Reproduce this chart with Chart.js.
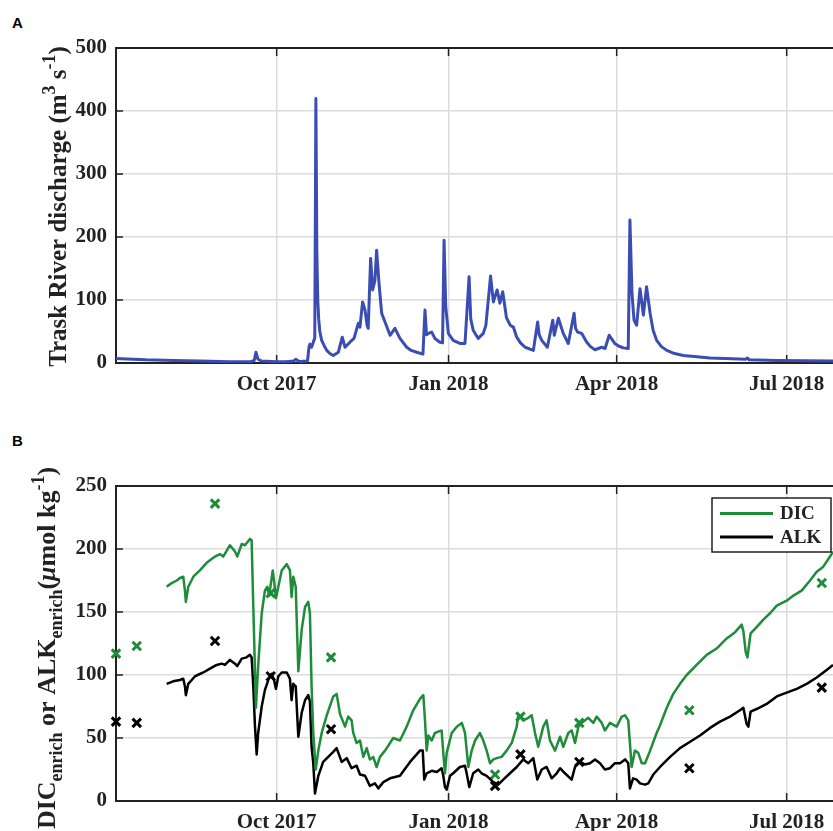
<!DOCTYPE html>
<html>
<head>
<meta charset="utf-8">
<script src="https://cdn.jsdelivr.net/npm/chart.js@4.4.1/dist/chart.umd.min.js"></script>
<style>
  html, body { margin: 0; padding: 0; background: #fff; overflow: hidden; }
  body { width: 833px; height: 831px; position: relative; }
  .panel { position: absolute; left: 0; width: 833px; }
  #wrapA { top: 0; height: 415px; }
  #wrapB { top: 420px; height: 411px; }
  .tag { position: absolute; left: 12px; font: bold 15px "Liberation Sans", Arial, sans-serif; line-height: 15px; color: #000; }
  canvas { display: block; }
</style>
</head>
<body>
<div class="tag" style="top:15px">A</div>
<div class="tag" style="top:433px">B</div>
<div class="panel" id="wrapA"><canvas id="chartA" width="833" height="415"></canvas></div>
<div class="panel" id="wrapB"><canvas id="chartB" width="833" height="411"></canvas></div>

<script>
// Time axis: days counted from 1 Oct 2017 (start of water year 2018)
const tickDays   = [0, 92, 182, 273];
const tickLabels = ['Oct 2017', 'Jan 2018', 'Apr 2018', 'Jul 2018'];
const dayMin = -86, dayMax = 297.8;

// Trask River discharge (m3 s-1)
const dischargeDay = [
  -86, -80, -70, -55, -41, -25, -14, -12, -11.1, -10, -8, 0, 5, 9, 10.3, 12, 16.5, 17.3, 17.8, 18.7,
  19.4, 20.4, 21.0, 21.5, 22.0, 22.5, 23.1, 24.1, 25.5, 26.8, 28.5, 30.3, 33.0, 35.1, 36.6, 39.2,
  41.4, 43.7, 44.6, 46.0, 47.3, 48.4, 49.0, 50.3, 51.4, 52.6, 53.5, 54.8, 56.2, 58.0, 60.7, 63.3,
  66.0, 69.6, 72.0, 75.0, 78.3, 79.4, 80.2, 81.2, 83.0, 84.7, 87.4, 88.8, 89.6, 90.5, 91.9, 94.5,
  98.1, 100.8, 103.0, 103.9, 105.2, 107.9, 110.6, 112.0, 114.5, 116.0, 118.0, 119.5, 121.0, 123.0,
  125.0, 126.7, 128.5, 130.5, 133.0, 137.4, 139.7, 140.5, 141.9, 144.9, 147.8, 148.6, 150.8, 153.4,
  156.1, 159.2, 160.0, 161.1, 163.3, 166.0, 168.0, 170.4, 174.0, 175.8, 178.0, 181.0, 183.0, 185.5,
  188.2, 189.1, 190.2, 191.3, 192.7, 194.5, 196.3, 198.0, 199.9, 201.5, 203.4, 206.0, 208.8, 213.0,
  217.7, 225.0, 232.0, 240.0, 251.0, 252.0, 253.0, 267.7, 297.8
];
const dischargeValue = [
  7, 6.5, 5, 4, 3, 2, 2, 4, 17, 6, 3, 2, 2, 3, 6, 2.5, 3, 25, 30, 25,
  31, 40, 420, 180, 100, 70, 50, 36, 27, 20, 15, 12, 17, 41, 25, 33,
  39, 63, 57, 97, 84, 60, 55, 166, 116, 131, 179, 126, 79, 65, 44, 55,
  39, 25, 20, 17, 14, 84, 45, 47, 49, 39, 33, 32, 195, 90, 47, 36,
  31, 31, 137, 70, 52, 39, 47, 60, 138, 97, 116, 95, 113, 72,
  60, 57, 41, 32, 25, 20, 65, 45, 36, 25, 68, 44, 71, 47,
  31, 79, 55, 49, 47, 33, 26, 21, 25, 23, 44, 31, 27, 24,
  23, 227, 110, 68, 60, 118, 76, 121, 79, 52, 36, 26, 20, 15,
  12, 10, 8, 7, 6, 8, 5, 4, 3
];

// DIC enrichment, continuous record (umol kg-1)
const dicDay = [
  -58.9, -56.2, -53.5, -51.8, -50.0, -49.1, -48.6, -47.3, -44.6, -41.1, -37.5, -33.0, -30.4, -28.6,
  -25.0, -22.3, -21.1, -18.7, -17.0, -14.3, -13.4, -12.5, -11.1, -9.9, -8.0, -6.3, -5.0, -4.0, -2.1,
  -1.4, -0.4, 0.9, 2.7, 5.4, 7.1, 8.0, 8.9, 10.2, 11.6, 13.4, 15.2, 16.9, 17.8, 18.7, 19.6, 20.9,
  22.3, 24.1, 26.8, 30.3, 32.1, 33.9, 36.6, 38.3, 40.1, 41.0, 42.8, 44.6, 46.4, 48.2, 49.9, 51.7,
  53.5, 55.3, 58.0, 60.7, 62.4, 66.0, 69.6, 73.1, 76.7, 78.5, 79.4, 80.3, 81.2, 83.0, 84.7, 86.5,
  88.3, 89.2, 90.1, 91.0, 93.7, 96.4, 99.1, 100.8, 102.6, 104.4, 106.2, 108.8, 110.6, 112.4, 114.2,
  116.0, 117.8, 120.4, 123.1, 125.8, 128.5, 129.3, 132.0, 134.7, 136.5, 138.3, 140.0, 142.7, 144.5,
  146.3, 149.0, 151.7, 153.4, 156.1, 157.9, 159.7, 161.5, 163.3, 166.8, 169.5, 171.3, 174.0, 175.7,
  178.4, 182.0, 184.7, 186.5, 188.2, 189.1, 190.0, 191.8, 193.6, 195.4, 197.2, 199.9, 203.4, 205.2,
  208.8, 212.3, 215.9, 219.5, 224.8, 230.2, 235.5, 240.9, 245.4, 248.9, 249.8, 251.1, 252.0, 253.7,
  256.9, 260.5, 264.1, 267.7, 273.0, 276.6, 281.0, 285.5, 289.1, 292.6, 296.2, 297.8
];
const dicValue = [
  170, 173, 175, 177, 178, 167, 158, 170, 178, 183, 189, 194, 196, 194,
  203, 198, 194, 204, 203, 208, 207, 154, 74, 107, 149, 167, 170, 163, 183,
  175, 161, 170, 183, 188, 183, 162, 178, 170, 103, 136, 154, 158, 149, 91, 54, 25,
  40, 54, 68, 83, 85, 69, 59, 67, 64, 54, 46, 48, 35, 42, 33, 35,
  27, 35, 40, 46, 50, 48, 59, 72, 81, 84, 64, 40, 52, 48, 54, 55,
  56, 38, 22, 38, 54, 59, 62, 54, 27, 40, 48, 54, 48, 40, 30,
  33, 34, 35, 40, 46, 59, 68, 64, 66, 68, 54, 43, 59, 64,
  48, 40, 51, 43, 54, 56, 46, 59, 62, 66, 62, 67, 62, 56,
  62, 59, 67, 68, 64, 46, 27, 40, 38, 30, 30, 40, 54, 60,
  74, 85, 93, 100, 108, 116, 121, 129, 134, 140, 135, 118, 114, 133,
  138, 144, 149, 155, 159, 163, 167, 175, 182, 186, 194, 198
];

// ALK enrichment, continuous record (umol kg-1)
const alkDay = [
  -58.9, -55.4, -51.8, -50.0, -49.1, -48.6, -47.3, -43.7, -39.3, -35.7, -32.1, -29.4, -27.7, -25.0,
  -22.3, -21.1, -18.7, -16.1, -14.3, -13.4, -12.5, -11.6, -10.7, -9.9, -8.0, -6.3, -4.5, -3.6, -2.7,
  -1.4, -0.4, 0.9, 2.7, 5.4, 7.1, 8.0, 8.9, 10.2, 11.6, 13.4, 15.2, 16.9, 17.8, 18.7, 19.6, 20.5,
  22.3, 24.9, 30.3, 32.1, 34.8, 37.5, 40.1, 42.8, 44.6, 47.3, 49.9, 52.6, 54.4, 57.1, 60.7, 66.0,
  71.4, 76.7, 78.2, 79.0, 80.3, 83.0, 85.7, 88.3, 89.2, 90.1, 91.0, 92.8, 94.5, 98.1, 100.8, 101.7,
  103.1, 105.2, 107.9, 109.7, 112.4, 116.0, 118.6, 121.3, 124.9, 128.5, 132.0, 134.7, 137.4, 139.5,
  141.9, 144.5, 147.2, 149.9, 151.7, 154.3, 157.9, 159.7, 162.4, 165.0, 167.7, 170.4, 173.1, 175.7,
  178.4, 181.1, 183.8, 186.5, 188.2, 189.1, 190.8, 192.7, 194.5, 197.2, 198.9, 201.6, 205.2, 210.6,
  215.9, 221.3, 226.6, 232.0, 237.3, 242.7, 248.0, 249.8, 251.6, 252.5, 253.7, 256.9, 262.3, 267.7,
  273.0, 278.4, 283.7, 289.1, 294.4, 297.8
];
const alkValue = [
  93, 95, 96, 97, 91, 84, 93, 99, 102, 105, 108, 109, 108, 112,
  109, 107, 113, 114, 116, 114, 91, 59, 37, 54, 75, 88, 96, 99, 101,
  96, 89, 99, 102, 102, 97, 80, 93, 91, 51, 70, 80, 84, 79, 43, 30, 6,
  20, 31, 39, 42, 31, 34, 26, 28, 21, 20, 12, 14, 10, 15, 18, 20,
  31, 40, 40, 17, 22, 24, 23, 26, 20, 11, 9, 20, 22, 27, 28, 22,
  11, 22, 25, 22, 20, 15, 13, 17, 22, 27, 33, 30, 34, 17,
  25, 27, 18, 22, 26, 22, 17, 27, 31, 29, 30, 33, 30, 25,
  26, 30, 30, 33, 30, 10, 18, 17, 14, 13, 14, 21, 27, 35,
  42, 47, 52, 58, 63, 67, 72, 74, 61, 59, 71, 73, 77, 83,
  86, 89, 93, 98, 104, 108
];

// Discrete bottle samples
const sampleDay      = [-86.0, -74.9, -33.0, -3.2, 29.1, 116.9, 130.5, 162.0, 220.9, 291.8];
const dicSampleValue = [117, 123, 236, 165, 114, 21, 67, 62, 72, 173];
const alkSampleValue = [63, 62, 127, 99, 57, 12, 37, 31, 26, 90];

const pts = (xs, ys) => xs.map((x, i) => ({ x, y: ys[i] }));

const SERIF = '"Liberation Serif", "Times New Roman", serif';
const INK = '#222222';
const GRID = '#dcdcdc';
const BLUE = '#3b4db2';
const GREEN = '#1e8c3a';
const tickFont = { family: SERIF, size: 21, weight: 'bold' };

function xAxis(height) {
  return {
    type: 'linear', min: dayMin, max: dayMax,
    afterBuildTicks: s => { s.ticks = tickDays.map(v => ({ value: v })); },
    ticks: { callback: (v, i) => tickLabels[i], font: tickFont, color: INK, padding: 9, maxRotation: 0, autoSkip: false },
    grid: { color: GRID, lineWidth: 1.5, drawTicks: false },
    border: { display: true, color: INK, width: 2 },
    afterFit: s => { s.height = height; s.paddingLeft = 0; s.paddingRight = 0; }
  };
}
function yAxis(max, step) {
  return {
    min: 0, max: max,
    ticks: { stepSize: step, font: tickFont, color: INK, padding: 9 },
    grid: { color: GRID, lineWidth: 1.5, drawTicks: false },
    border: { display: true, color: INK, width: 2 },
    afterFit: s => { s.width = 116; }
  };
}

// Top edge of the box plus inward tick marks
const framePlugin = {
  id: 'frame',
  beforeDatasetsDraw(chart) {
    const { ctx, chartArea: a, scales: { x, y } } = chart;
    ctx.save();
    ctx.strokeStyle = INK;
    ctx.lineWidth = 2;
    ctx.beginPath();
    ctx.moveTo(a.left - 1, a.top);
    ctx.lineTo(a.right + 2, a.top);
    ctx.stroke();
    ctx.lineWidth = 1.5;
    ctx.beginPath();
    x.ticks.forEach(t => {
      const px = x.getPixelForValue(t.value);
      ctx.moveTo(px, a.bottom); ctx.lineTo(px, a.bottom - 8);
      ctx.moveTo(px, a.top); ctx.lineTo(px, a.top + 8);
    });
    y.ticks.forEach(t => {
      const py = y.getPixelForValue(t.value);
      ctx.moveTo(a.left, py); ctx.lineTo(a.left + 7, py);
    });
    ctx.stroke();
    ctx.restore();
  }
};

// Rotated axis title made of runs with sub/superscripts
function drawRotated(ctx, cx, cy, parts) {
  ctx.save();
  ctx.translate(cx, cy);
  ctx.rotate(-Math.PI / 2);
  ctx.textBaseline = 'alphabetic';
  ctx.textAlign = 'left';
  ctx.fillStyle = INK;
  const fontOf = p => (p.italic ? 'italic ' : '') + 'bold ' + p.size + 'px ' + SERIF;
  let total = 0;
  parts.forEach(p => { ctx.font = fontOf(p); p.w = ctx.measureText(p.t).width; total += p.w; });
  let xx = -total / 2;
  parts.forEach(p => { ctx.font = fontOf(p); ctx.fillText(p.t, xx, p.dy || 0); xx += p.w; });
  ctx.restore();
}
function titlePlugin(cx, cyFn, parts) {
  return { id: 'yTitle', afterDraw(chart) { drawRotated(chart.ctx, cx, cyFn(chart), parts); } };
}

// Boxed legend inside the upper-right of the plot
const boxLegend = {
  id: 'boxLegend',
  afterDatasetsDraw(chart) {
    const { ctx, chartArea: a } = chart;
    const left = a.right - 121, top = a.top + 12, w = 119, h = 54;
    ctx.save();
    ctx.fillStyle = '#fff';
    ctx.fillRect(left, top, w, h);
    ctx.strokeStyle = INK;
    ctx.lineWidth = 1.5;
    ctx.strokeRect(left, top, w, h);
    const items = chart.data.datasets.filter(d => d.inLegend);
    items.forEach((d, i) => {
      const yy = top + 15.5 + i * 23.5;
      ctx.strokeStyle = d.borderColor;
      ctx.lineWidth = 3;
      ctx.beginPath(); ctx.moveTo(left + 8, yy); ctx.lineTo(left + 61, yy); ctx.stroke();
      ctx.fillStyle = INK;
      ctx.font = 'bold 19px ' + SERIF;
      ctx.textBaseline = 'middle';
      ctx.fillText(d.label, left + 68, yy + 1);
    });
    ctx.restore();
  }
};

new Chart(document.getElementById('chartA'), {
  type: 'line',
  data: {
    datasets: [{
      label: 'Discharge',
      data: pts(dischargeDay, dischargeValue),
      borderColor: BLUE, borderWidth: 3, pointRadius: 0, tension: 0,
      borderJoinStyle: 'round', borderCapStyle: 'round', fill: false
    }]
  },
  options: {
    responsive: false, animation: false,
    layout: { autoPadding: false, padding: { top: 48, right: 0, left: 0, bottom: 0 } },
    plugins: { legend: { display: false }, tooltip: { enabled: false } },
    scales: { x: xAxis(52), y: yAxis(500, 100) }
  },
  plugins: [framePlugin, titlePlugin(66, c => (c.chartArea.top + c.chartArea.bottom) / 2 + 1, [
    { t: 'Trask River discharge (m', size: 25 },
    { t: '3', size: 18, dy: -11 },
    { t: ' s', size: 25 },
    { t: '-1', size: 18, dy: -11 },
    { t: ')', size: 25 }
  ])]
});

new Chart(document.getElementById('chartB'), {
  type: 'line',
  data: {
    datasets: [
      { label: 'DIC', inLegend: true, data: pts(dicDay, dicValue), borderColor: GREEN, borderWidth: 2.5,
        pointRadius: 0, tension: 0, borderJoinStyle: 'round', fill: false },
      { label: 'ALK', inLegend: true, data: pts(alkDay, alkValue), borderColor: '#000', borderWidth: 2.5,
        pointRadius: 0, tension: 0, borderJoinStyle: 'round', fill: false },
      { label: 'DIC samples', data: pts(sampleDay, dicSampleValue), showLine: false, clip: false,
        pointStyle: 'crossRot', pointRadius: 6, borderWidth: 3, borderColor: GREEN, backgroundColor: GREEN },
      { label: 'ALK samples', data: pts(sampleDay, alkSampleValue), showLine: false, clip: false,
        pointStyle: 'crossRot', pointRadius: 6, borderWidth: 3, borderColor: '#000', backgroundColor: '#000' }
    ]
  },
  options: {
    responsive: false, animation: false,
    layout: { autoPadding: false, padding: { top: 66, right: 0, left: 0, bottom: 0 } },
    plugins: { legend: { display: false }, tooltip: { enabled: false } },
    scales: { x: xAxis(30), y: yAxis(250, 50) }
  },
  plugins: [framePlugin, boxLegend, titlePlugin(55, c => 228, [
    { t: 'DIC', size: 26 },
    { t: 'enrich', size: 18, dy: 7 },
    { t: ' or ', size: 26 },
    { t: 'ALK', size: 26 },
    { t: 'enrich', size: 18, dy: 7 },
    { t: '(', size: 26 },
    { t: 'μ', size: 26, italic: true },
    { t: 'mol kg', size: 26 },
    { t: '-1', size: 18, dy: -11 },
    { t: ')', size: 26 }
  ])]
});
</script>
</body>
</html>
